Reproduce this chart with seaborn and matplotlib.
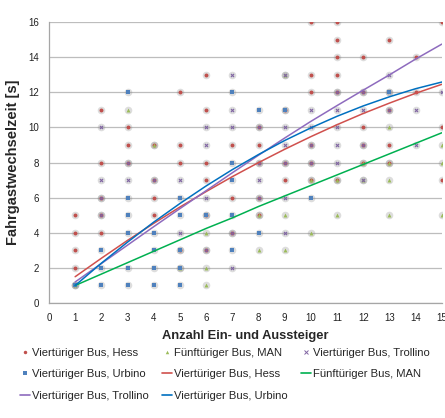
import pandas as pd
import seaborn as sns
import matplotlib.pyplot as plt
from matplotlib.lines import Line2D

# Messpunkte (x = Anzahl Ein- und Aussteiger, y = Fahrgastwechselzeit)
hess_x = [1, 1, 1, 1, 2, 2, 2, 2, 2, 3, 3, 3, 4, 4, 4, 4, 5, 5, 5, 6, 6, 6, 6, 7, 7, 8, 8, 8, 9,
          10, 10, 10, 11, 11, 11, 11, 12, 12, 13, 13, 13, 14, 14, 15, 15, 15,
          5, 6, 6, 7, 8, 8, 9, 9, 10, 10, 10, 11, 11, 12, 12, 12, 13]
hess_y = [2, 3, 4, 5, 4, 5, 6, 8, 11, 8, 9, 10, 5, 6, 7, 9, 8, 9, 12, 7, 8, 11, 13, 6, 9, 8, 9, 10, 7,
          12, 13, 16, 13, 14, 15, 16, 10, 14, 9, 11, 15, 12, 14, 7, 10, 16,
          3, 3, 5, 4, 5, 6, 8, 11, 7, 8, 9, 7, 12, 8, 9, 12, 8]

man_x = [1, 3, 4, 6, 6, 8, 9, 9, 10, 11, 13, 13, 13, 15, 15, 15, 12, 5, 6, 8, 9, 10, 11, 12, 13]
man_y = [1, 11, 9, 1, 2, 3, 3, 5, 4, 5, 5, 7, 10, 5, 8, 9, 8, 2, 4, 5, 13, 7, 7, 7, 8]

troll_x = [1, 2, 2, 3, 3, 4, 6, 6, 7, 7, 7, 7, 8, 8, 8, 9, 9, 9, 9, 10, 10, 11, 11, 11, 11, 12, 13, 13,
           14, 14, 15, 2, 2, 5, 6, 12, 5, 6, 7, 8, 9, 9, 10, 10, 11, 12, 12, 13]
troll_y = [1, 7, 10, 7, 8, 7, 9, 10, 2, 10, 11, 13, 7, 8, 10, 4, 6, 9, 10, 10, 11, 8, 9, 10, 11, 11, 11, 13,
           9, 11, 12, 5, 6, 7, 6, 9, 4, 3, 4, 6, 8, 13, 8, 9, 12, 7, 12, 12]

urb_x = [1, 2, 2, 2, 3, 3, 3, 3, 4, 4, 4, 5, 5, 7, 7, 7, 7, 7, 8, 8, 10, 3, 3, 5, 4, 5, 5, 6, 9, 13]
urb_y = [1, 1, 2, 3, 1, 2, 6, 12, 2, 3, 4, 1, 5, 3, 5, 7, 8, 12, 4, 11, 6, 4, 5, 6, 1, 2, 3, 5, 11, 12]

trend_x = list(range(1, 16))
hess_trend = [1.50, 2.55, 3.57, 4.54, 5.47, 6.35, 7.20, 8.00, 8.76, 9.48, 10.16, 10.80, 11.39, 11.95, 12.46]
man_trend = [1.00, 1.65, 2.30, 2.95, 3.60, 4.25, 4.85, 5.50, 6.10, 6.70, 7.30, 7.90, 8.50, 9.10, 9.70]
troll_trend = [1.20, 2.25, 3.30, 4.35, 5.38, 6.40, 7.42, 8.42, 9.40, 10.35, 11.25, 12.13, 13.00, 13.90, 14.75]
urb_trend = [1.00, 2.27, 3.47, 4.61, 5.67, 6.67, 7.60, 8.46, 9.26, 9.98, 10.64, 11.23, 11.75, 12.21, 12.59]

labels = ['Viertüriger Bus, Hess', 'Fünftüriger Bus, MAN',
          'Viertüriger Bus, Trollino', 'Viertüriger Bus, Urbino']
point_colors = ['#C0504D', '#9BBB59', '#8064A2', '#4F81BD']
line_colors = ['#D0504D', '#00B050', '#8E6BBE', '#0070C0']
markers = ['o', '^', 'x', 's']


def main():
    sns.set_style('white')
    plt.rcParams['font.family'] = ['Liberation Sans', 'DejaVu Sans']

    fig = plt.figure(figsize=(4.45, 4.18), dpi=100)
    ax = fig.add_axes([0.110, 0.275, 0.883, 0.672])

    pts = [(hess_x, hess_y), (man_x, man_y), (troll_x, troll_y), (urb_x, urb_y)]
    trends = [hess_trend, man_trend, troll_trend, urb_trend]

    # Schatten unter den Punkten
    for (xs, ys) in pts:
        df = pd.DataFrame({'x': xs, 'y': ys})
        sns.scatterplot(data=df, x='x', y='y', ax=ax, color='#7a7a7a', alpha=0.25,
                        s=30, marker='o', linewidth=0, zorder=2, legend=False)

    for (xs, ys), lab, c, m in zip(pts, labels, point_colors, markers):
        df = pd.DataFrame({'x': xs, 'y': ys})
        if m == 'x':
            sns.scatterplot(data=df, x='x', y='y', ax=ax, color=c, s=5, marker=m,
                            linewidth=0.8, zorder=3, legend=False)
        else:
            sns.scatterplot(data=df, x='x', y='y', ax=ax, color=c, s=8, marker=m,
                            linewidth=0, zorder=3, legend=False)

    for tr, c in zip(trends, line_colors):
        df = pd.DataFrame({'x': trend_x, 'y': tr})
        sns.lineplot(data=df, x='x', y='y', ax=ax, color=c, linewidth=1.1, zorder=4)

    ax.set_xlim(0, 15)
    ax.set_ylim(0, 16)
    ax.set_xticks(range(0, 16))
    ax.set_yticks(range(0, 17, 2))
    ax.yaxis.grid(True, color='#BDBDBD', linewidth=0.9)
    ax.set_axisbelow(True)
    for s in ['top', 'right']:
        ax.spines[s].set_visible(False)
    for s in ['left', 'bottom']:
        ax.spines[s].set_color('#A6A6A6')
        ax.spines[s].set_linewidth(0.9)
    ax.tick_params(axis='both', which='both', length=3, width=0.8, color='#A6A6A6',
                   labelsize=7, labelcolor='#222222', pad=4, direction='out')
    ax.tick_params(axis='x', pad=4)

    ax.set_xlabel('Anzahl Ein- und Aussteiger', fontsize=9.3, fontweight='bold', labelpad=5)
    ax.set_ylabel('Fahrgastwechselzeit [s]', fontsize=10.5, fontweight='bold', labelpad=6)

    # Legende: Punkte und Trendlinien, zeilenweise angeordnet
    pt_h = []
    for lab, c, m in zip(labels, point_colors, markers):
        if m == 'x':
            pt_h.append(Line2D([], [], linestyle='none', marker=m, color=c, markersize=2.2,
                               markeredgewidth=0.7, label=lab))
        else:
            pt_h.append(Line2D([], [], linestyle='none', marker=m, color=c, markersize=2.5,
                               markeredgewidth=0, label=lab))
    ln_h = [Line2D([], [], color=c, linewidth=1.2, label=lab)
            for lab, c in zip(labels, line_colors)]
    rows = pt_h + ln_h
    order = [0, 3, 6, 1, 4, 7, 2, 5]
    handles = [rows[i] for i in order]
    fig.legend(handles=handles, loc='upper left', bbox_to_anchor=(0.035, 0.178), ncol=3,
               frameon=False, fontsize=8.1, handlelength=0.9, handletextpad=0.15,
               columnspacing=1.2, labelspacing=1.0, borderaxespad=0)

    fig.savefig('out.png', dpi=100)


if __name__ == "__main__":
    main()
